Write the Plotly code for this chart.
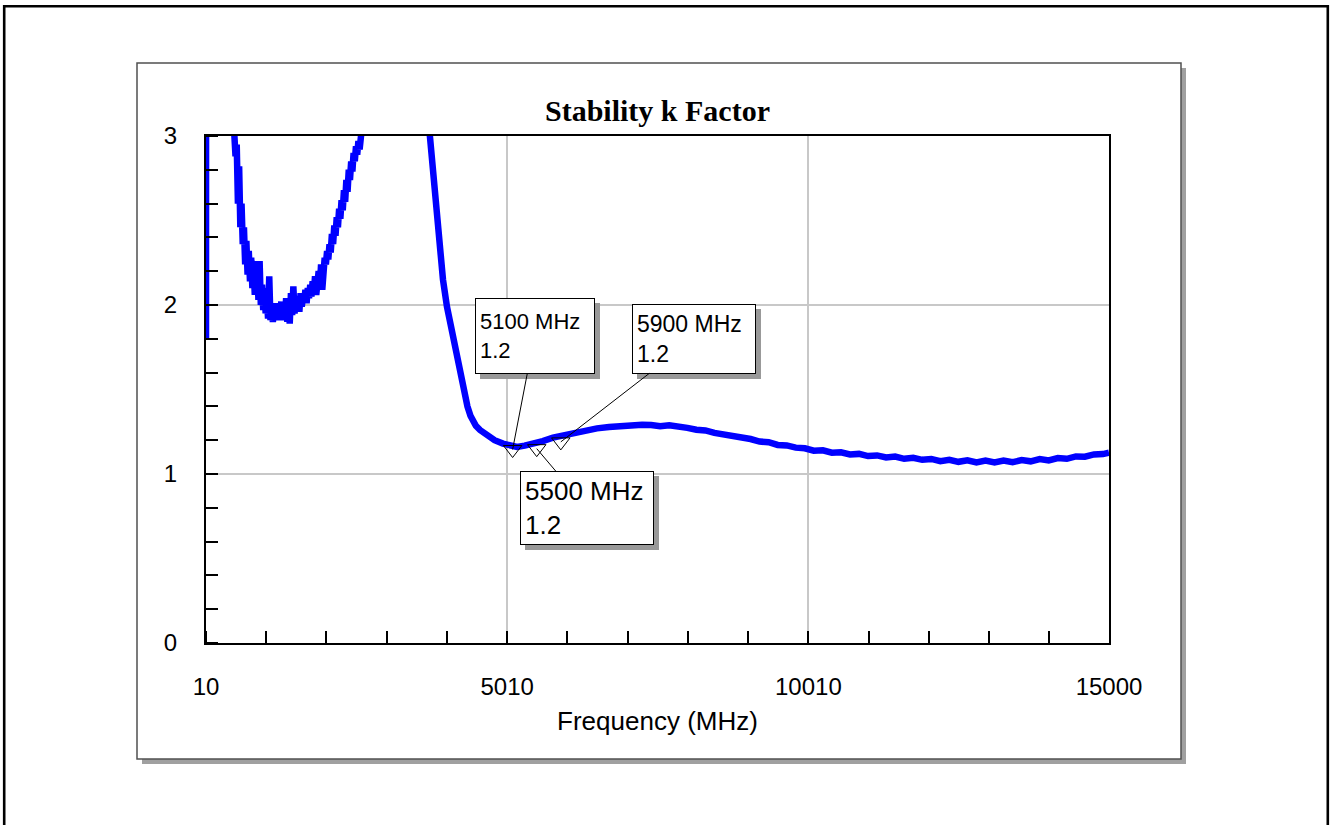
import plotly.graph_objects as go

# ---------------- data ----------------
freq_start = [10, 15, 150, 300, 420, 460]
k_start = [1.80, 8.0, 4.2, 4.0, 3.4, 3.10]

freq_dip = [480, 500, 520, 540, 560, 580, 600, 620, 640, 660, 680, 700, 720, 740, 760, 780,
            800, 820, 840, 860, 880, 900, 920, 940, 960, 980, 1000, 1020, 1040, 1060, 1080,
            1100, 1120, 1140, 1160, 1180, 1200, 1220, 1240, 1260, 1280, 1300, 1320, 1340,
            1360, 1380, 1400, 1420, 1440, 1460, 1480, 1500, 1520, 1540, 1560, 1580, 1600,
            1620, 1640, 1660, 1680, 1700, 1720, 1740, 1760, 1780, 1800, 1820, 1840, 1860,
            1880, 1900, 1920, 1940, 1960, 1980, 2000, 2020, 2040, 2060, 2080, 2100, 2120,
            2140, 2160, 2180, 2200, 2220, 2240, 2260, 2280, 2300, 2320, 2340, 2360, 2380,
            2400, 2420, 2440, 2460, 2480, 2500, 2520, 2540, 2560, 2580, 2600, 2640]
k_dip = [3.00, 2.88, 2.95, 2.60, 2.82, 2.46, 2.60, 2.36, 2.46, 2.24, 2.38, 2.18, 2.32, 2.14,
         2.28, 2.10, 2.22, 2.06, 2.18, 2.26, 2.03, 2.26, 2.00, 2.12, 1.97, 2.10, 1.95, 2.05,
         1.92, 2.17, 1.91, 2.00, 1.90, 1.98, 1.92, 2.01, 1.91, 1.99, 1.93, 2.02, 1.91, 1.98,
         1.92, 2.04, 1.90, 2.01, 1.89, 2.07, 1.94, 2.11, 1.95, 2.05, 1.97, 2.03, 1.96, 2.07,
         1.99, 2.05, 2.02, 2.09, 2.01, 2.10, 2.04, 2.12, 2.05, 2.14, 2.07, 2.17, 2.06, 2.15,
         2.20, 2.10, 2.24, 2.09, 2.26, 2.28, 2.24, 2.32, 2.27, 2.36, 2.31, 2.42, 2.36, 2.47,
         2.41, 2.52, 2.46, 2.57, 2.51, 2.62, 2.56, 2.68, 2.61, 2.74, 2.67, 2.80, 2.74, 2.85,
         2.79, 2.90, 2.85, 2.94, 2.89, 2.97, 2.92, 3.00, 3.04, 3.10]

freq_peak = [2700, 3000, 3400, 3650, 3700, 3728]
k_peak = [3.4, 4.0, 4.0, 3.3, 3.1, 3.0]

freq_fall = [3780, 3845, 3900, 3944, 4010, 4094, 4160, 4226, 4260, 4309, 4350, 4400, 4442,
             4490, 4560, 4675, 4800, 4940, 5060, 5173, 5300, 5389, 5500, 5600, 5770, 5900,
             6050, 6200, 6335, 6500, 6700, 6882, 7100, 7250]
k_fall = [2.78, 2.49, 2.30, 2.15, 1.99, 1.85, 1.72, 1.60, 1.53, 1.46, 1.40, 1.345, 1.31,
          1.285, 1.26, 1.23, 1.20, 1.18, 1.165, 1.16, 1.168, 1.175, 1.18, 1.195, 1.215,
          1.225, 1.24, 1.25, 1.26, 1.27, 1.278, 1.284, 1.288, 1.291]

freq_tail = [7400, 7550, 7700, 7850, 8000, 8150, 8300, 8450, 8600, 8750, 8900, 9050, 9200,
             9350, 9500, 9650, 9800, 9950, 10100, 10250, 10400, 10550, 10700, 10850, 11000,
             11150, 11300, 11450, 11600, 11750, 11900, 12050, 12200, 12350, 12500, 12650,
             12800, 12950, 13100, 13250, 13400, 13550, 13700, 13850, 14000, 14150, 14300,
             14450, 14600, 14750, 14900, 15000]
k_tail = [1.290, 1.283, 1.288, 1.276, 1.273, 1.262, 1.258, 1.243, 1.236, 1.226, 1.214, 1.207,
          1.192, 1.188, 1.172, 1.169, 1.156, 1.152, 1.138, 1.140, 1.126, 1.128, 1.116, 1.119,
          1.106, 1.110, 1.098, 1.103, 1.090, 1.096, 1.084, 1.089, 1.076, 1.084, 1.072, 1.081,
          1.068, 1.079, 1.068, 1.080, 1.070, 1.082, 1.075, 1.088, 1.080, 1.094, 1.090, 1.104,
          1.102, 1.116, 1.118, 1.126]

marker_freq = [5100, 5500, 5900]
marker_k = [1.145, 1.15, 1.19]
marker_labels = ["5100 MHz<br>1.2", "5500 MHz<br>1.2", "5900 MHz<br>1.2"]

x_tickvals = [10, 5010, 10010, 15000]
x_ticktext = ["10", "5010", "10010", "15000"]
y_tickvals = [0, 1, 2, 3]
y_ticktext = ["0", "1", "2", "3"]

freq = freq_start + freq_dip + freq_peak + freq_fall + freq_tail
kval = k_start + k_dip + k_peak + k_fall + k_tail

# ---------------- layout geometry (pixels) ----------------
W, H = 1331, 825
PL, PR, PT, PB = 206, 1109, 136, 643


def px_x(p):
    return (p - PL) / (PR - PL)


def px_y(p):
    return (PB - p) / (PB - PT)


SANS = "Liberation Sans, Arial, sans-serif"
SERIF = "Liberation Serif, Times New Roman, serif"

fig = go.Figure()
fig.add_trace(go.Scatter(x=freq, y=kval, mode="lines",
                         line=dict(color="#0000FF", width=6.5), hoverinfo="skip",
                         showlegend=False))
fig.add_trace(go.Scatter(x=marker_freq, y=marker_k, mode="markers",
                         marker=dict(symbol="triangle-down-open", size=16, color="black",
                                     line=dict(width=1, color="black")),
                         showlegend=False, cliponaxis=False))

shapes = [
    # outer frame
    dict(type="rect", xref="paper", yref="paper", x0=px_x(4.2), x1=px_x(1327.8),
         y0=px_y(860), y1=px_y(6.2), line=dict(color="black", width=2.6), layer="below"),
    # chart area shadow
    dict(type="rect", xref="paper", yref="paper", x0=px_x(142), x1=px_x(1186),
         y0=px_y(764), y1=px_y(68), fillcolor="#a0a0a0", line=dict(width=0), layer="below"),
    # chart area
    dict(type="rect", xref="paper", yref="paper", x0=px_x(137), x1=px_x(1181),
         y0=px_y(759), y1=px_y(63), fillcolor="white",
         line=dict(color="#505050", width=1.5), layer="below"),
]

ann_geom = [
    # ax, ay, width, height, font size
    (22, -114, 110, 66, 22),
    (50, 59, 124, 64, 26),
    (133, -103, 114, 60, 23),
]
annotations = []
for shadow in (True, False):
    for fx, fy, lab, (ax, ay, w, h, fs) in zip(marker_freq, marker_k, marker_labels, ann_geom):
        annotations.append(dict(
            x=fx, y=fy, xref="x", yref="y", ax=ax, ay=ay,
            text=" " if shadow else lab, align="left",
            showarrow=True, arrowhead=0, arrowwidth=1,
            arrowcolor="rgba(0,0,0,0)" if shadow else "black",
            font=dict(family=SANS, size=fs, color="#999999" if shadow else "black"),
            bgcolor="#999999" if shadow else "white",
            bordercolor="#999999" if shadow else "black", borderwidth=1, borderpad=4,
            width=w, height=h, valign="middle",
            xshift=5 if shadow else 0, yshift=-5 if shadow else 0,
        ))

fig.update_layout(
    width=W, height=H, autosize=False,
    margin=dict(l=PL, r=W - PR, t=PT, b=H - PB, pad=0),
    paper_bgcolor="white", plot_bgcolor="white",
    title=dict(text="<b>Stability k Factor</b>", x=0.5, xref="paper", xanchor="center",
               y=1 - 110 / H, yref="container", yanchor="middle",
               font=dict(family=SERIF, size=30, color="black")),
    shapes=shapes, annotations=annotations, showlegend=False,
    xaxis=dict(range=[10, 15000], tickvals=x_tickvals, ticktext=x_ticktext,
               ticks="", showgrid=True, gridcolor="#c8c8c8", gridwidth=1.5,
               zeroline=False, showline=True, linecolor="black", linewidth=2, mirror=True,
               tickfont=dict(family=SANS, size=24, color="black"), ticklabelstandoff=21,
               minor=dict(tick0=10, dtick=1000, ticks="inside", ticklen=12, tickwidth=1.5,
                          tickcolor="black", showgrid=False),
               title=dict(text="Frequency (MHz)", standoff=13,
                          font=dict(family=SANS, size=26, color="black")),
               automargin=False, fixedrange=True),
    yaxis=dict(range=[0, 3], tickvals=y_tickvals, ticktext=y_ticktext,
               ticks="", showgrid=True, gridcolor="#c8c8c8", gridwidth=1.5,
               zeroline=False, showline=True, linecolor="black", linewidth=2, mirror=True,
               tickfont=dict(family=SANS, size=24, color="black"), ticklabelstandoff=22,
               minor=dict(tick0=0, dtick=0.2, ticks="inside", ticklen=12, tickwidth=1.5,
                          tickcolor="black", showgrid=False),
               automargin=False, fixedrange=True),
)

fig.write_html("out.html")
